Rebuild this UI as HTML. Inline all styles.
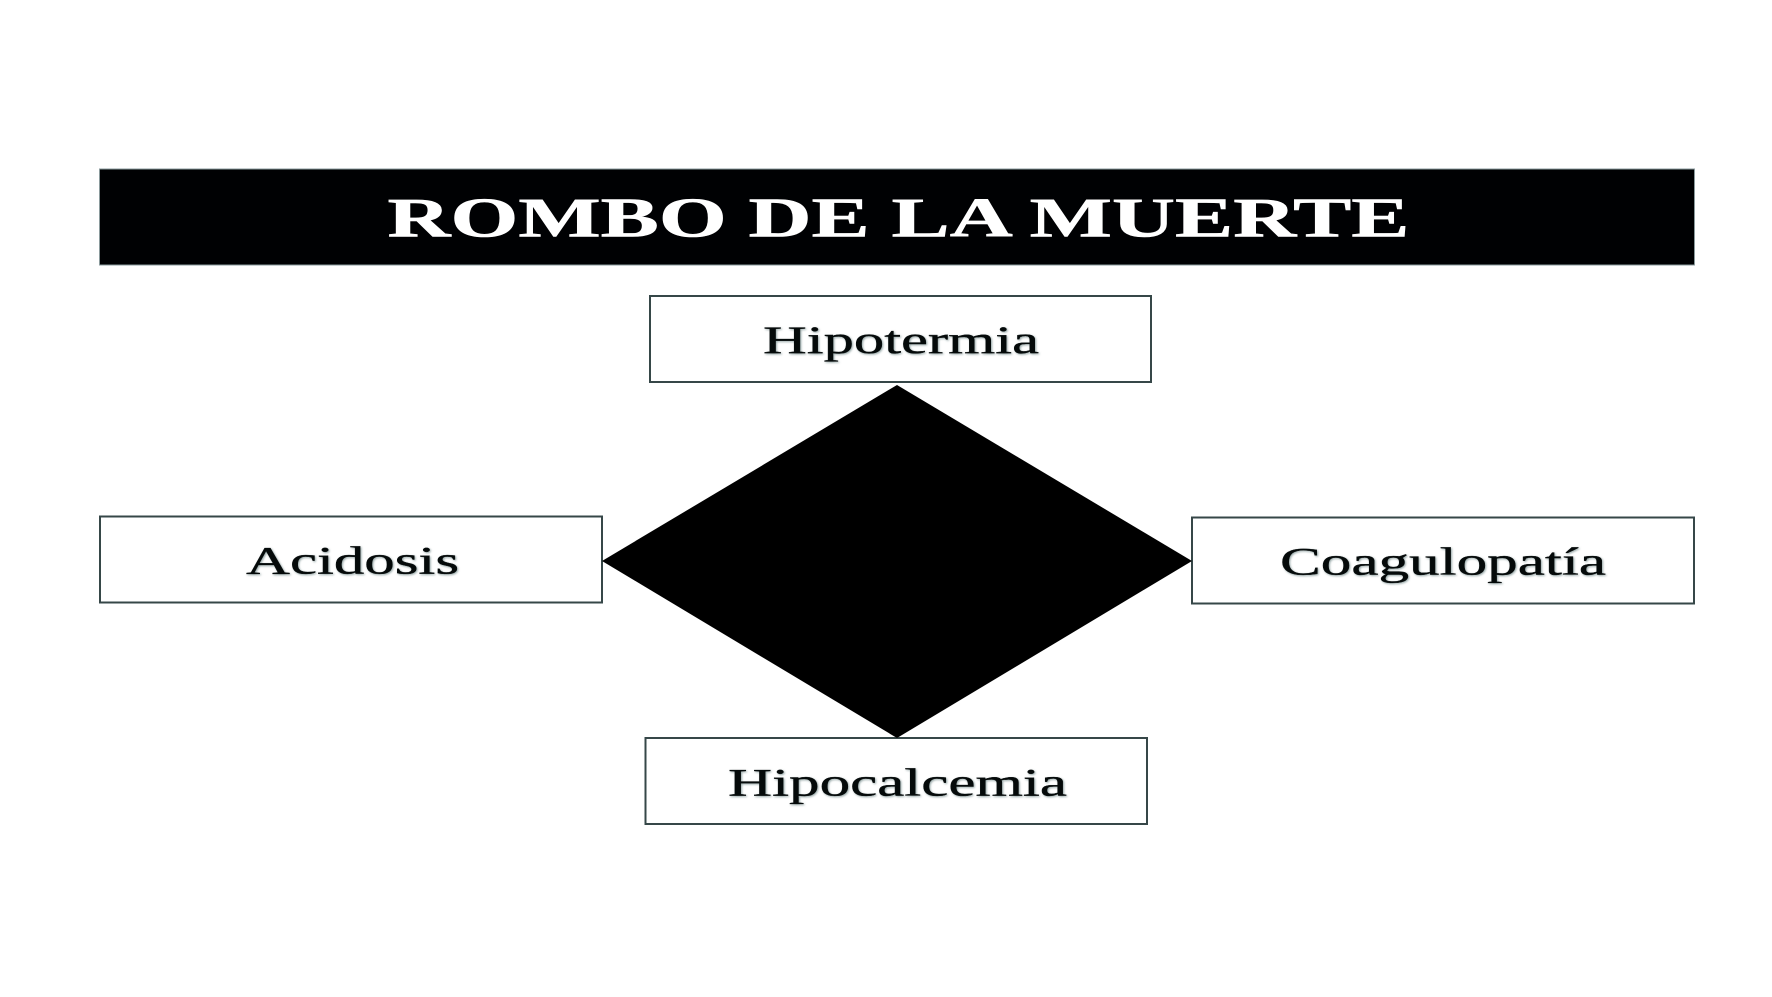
<!DOCTYPE html>
<html lang="es">
<head>
<meta charset="utf-8">
<title>Rombo de la muerte</title>
<style>
html,body{margin:0;padding:0;background:#fff;width:1772px;height:997px;overflow:hidden}
svg{display:block}
text{font-family:"Liberation Serif",serif}
.l{font-size:39px;fill:#050a0a;stroke:#050a0a;stroke-width:.35;filter:drop-shadow(1px 1px 1px rgba(70,100,100,.6))}
.t{font-size:56px;font-weight:bold;fill:#fff;stroke:#fff;stroke-width:.6;filter:blur(.3px)}
.b{fill:#fff;stroke:#364748;stroke-width:2}
</style>
</head>
<body>
<svg width="1772" height="997" viewBox="0 0 1772 997" xmlns="http://www.w3.org/2000/svg">
<rect width="1772" height="997" fill="#fff"/>
<rect x="99.5" y="169" width="1595" height="96" fill="#000103" stroke="#8a9a9c" stroke-width="1"/>
<text class="t" x="387.5" y="236.5" textLength="1022" lengthAdjust="spacingAndGlyphs">ROMBO DE LA MUERTE</text>

<rect class="b" x="650" y="296" width="501" height="86"/>
<rect class="b" x="100" y="516.5" width="502" height="86"/>
<rect class="b" x="1192" y="517.5" width="502" height="86"/>
<rect class="b" x="645.5" y="738" width="501.5" height="86"/>

<polygon points="897,385 1192,561 897,738 602,561" fill="#000"/>

<text class="l" x="763" y="353" textLength="276" lengthAdjust="spacingAndGlyphs">Hipotermia</text>
<text class="l" x="246" y="573.5" textLength="213" lengthAdjust="spacingAndGlyphs">Acidosis</text>
<text class="l" x="1280" y="574.5" textLength="326" lengthAdjust="spacingAndGlyphs">Coagulopatía</text>
<text class="l" x="728" y="795.5" textLength="339" lengthAdjust="spacingAndGlyphs">Hipocalcemia</text>
</svg>
</body>
</html>
